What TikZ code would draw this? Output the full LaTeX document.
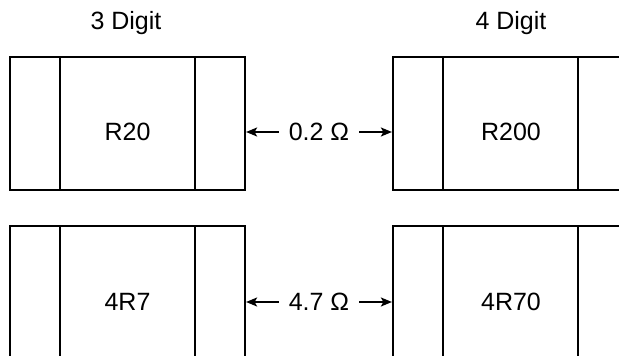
\documentclass[tikz,border=0pt]{standalone}
\usepackage{fontspec}
\setmainfont{Liberation Sans}
\usepackage{tikz}
\usetikzlibrary{arrows.meta,positioning}

\tikzset{
  chip/.style={draw, line width=2.2pt, minimum width=235pt, minimum height=133pt, inner sep=0pt},
  txt/.style={font=\fontsize{25}{30}\selectfont, inner sep=0pt},
  val/.style={font=\fontsize{25}{30}\selectfont, inner sep=10pt},
  dim/.style={line width=1.8pt, -{Stealth[length=11pt,width=9pt,inset=2.5pt]}}
}

\begin{document}
\begin{tikzpicture}[x=1pt, y=1pt]
			\path[use as bounding box, clip] (0, 0) rectangle (619, 356);
			\node[txt] (head3) at (126, 333) {3 Digit};
			\node[txt] (head4) at (511, 333) {4 Digit};

			% top row
			\node[chip] (chipA) at (127.5, 232.5) {};
			\node[chip] (chipB) at (510.5, 232.5) {};
			\draw[line width=2.2pt] (60, 299) -- (60, 166);
			\draw[line width=2.2pt] (195, 299) -- (195, 166);
			\draw[line width=2.2pt] (443, 299) -- (443, 166);
			\draw[line width=2.2pt] (578, 299) -- (578, 166);
			\node[txt] (codeA) at (127.5, 224) {R20};
			\node[txt] (codeB) at (511, 224) {R200};
			\node[val] (valA) at (319, 224) {0.2 Ω};
			\draw[dim] (valA.west) to (chipA.east |- valA.west);
			\draw[dim] (valA.east) to (chipB.west |- valA.east);

			% bottom row
			\node[chip] (chipC) at (127.5, -4) [anchor=south] {};
			\node[chip] (chipD) at (510.5, -4) [anchor=south] {};
			\draw[line width=2.2pt] (60, 129) -- (60, -4);
			\draw[line width=2.2pt] (195, 129) -- (195, -4);
			\draw[line width=2.2pt] (443, 129) -- (443, -4);
			\draw[line width=2.2pt] (578, 129) -- (578, -4);
			\node[txt] (codeC) at (127.5, 54) {4R7};
			\node[txt] (codeD) at (511, 54) {4R70};
			\node[val] (valC) at (319, 54) {4.7 Ω};
			\draw[dim] (valC.west) to (chipC.east |- valC.west);
			\draw[dim] (valC.east) to (chipD.west |- valC.east);
		\end{tikzpicture}
\end{document}
